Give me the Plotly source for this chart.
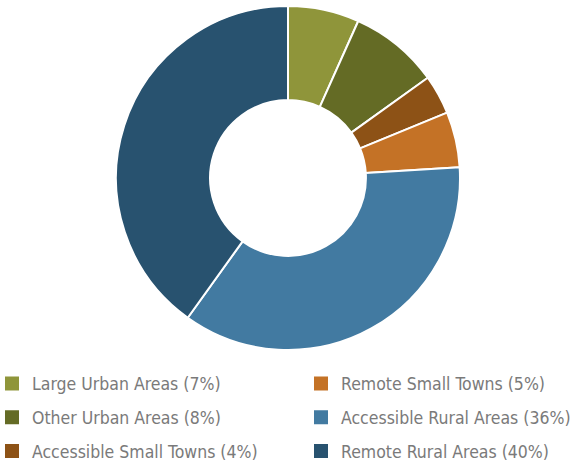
import plotly.graph_objects as go

categories = ["Large Urban Areas", "Other Urban Areas", "Accessible Small Towns",
              "Remote Small Towns", "Accessible Rural Areas", "Remote Rural Areas"]
shares = [6.7, 8.4, 3.7, 5.2, 35.9, 40.1]
legend_pct = [7, 8, 4, 5, 36, 40]
colors = ["#8f953a", "#646b25", "#8d5216", "#c47226", "#427aa1", "#28526f"]

labels = [f"{c} ({p}%)" for c, p in zip(categories, legend_pct)]

fig = go.Figure()
fig.add_trace(go.Pie(
    labels=labels, values=shares, sort=False, direction="clockwise", rotation=0,
    hole=0.453, marker=dict(colors=colors, line=dict(color="white", width=2)),
    textinfo="none", hoverinfo="label+percent", showlegend=False,
    domain=dict(x=[116/580, 460/580], y=[(468-350)/468, (468-6)/468]),
))

for i, (lab, col) in enumerate(zip(labels, colors)):
    fig.add_trace(go.Scatter(
        x=[None], y=[None], mode="markers", name=lab,
        marker=dict(symbol="square", size=14, color=col),
        legend="legend" if i < 3 else "legend2",
        legendgroup=f"g{i}",
    ))

font = dict(family="DejaVu Sans Condensed, Liberation Sans Narrow, Roboto, sans-serif",
            size=17.5, color="#7a7a7a")
fig.update_layout(
    width=580, height=468, margin=dict(l=0, r=0, t=0, b=0, autoexpand=False),
    paper_bgcolor="white", plot_bgcolor="white",
    xaxis=dict(visible=False), yaxis=dict(visible=False),
    legend=dict(x=-8/580, y=0.219, xanchor="left", yanchor="top", font=font,
                itemwidth=30, tracegroupgap=8, bgcolor="rgba(0,0,0,0)"),
    legend2=dict(x=301/580, y=0.219, xanchor="left", yanchor="top", font=font,
                 itemwidth=30, tracegroupgap=8, bgcolor="rgba(0,0,0,0)"),
)
fig.write_html("out.html", config={"displayModeBar": False},
               post_script="document.body.style.margin='0';")
